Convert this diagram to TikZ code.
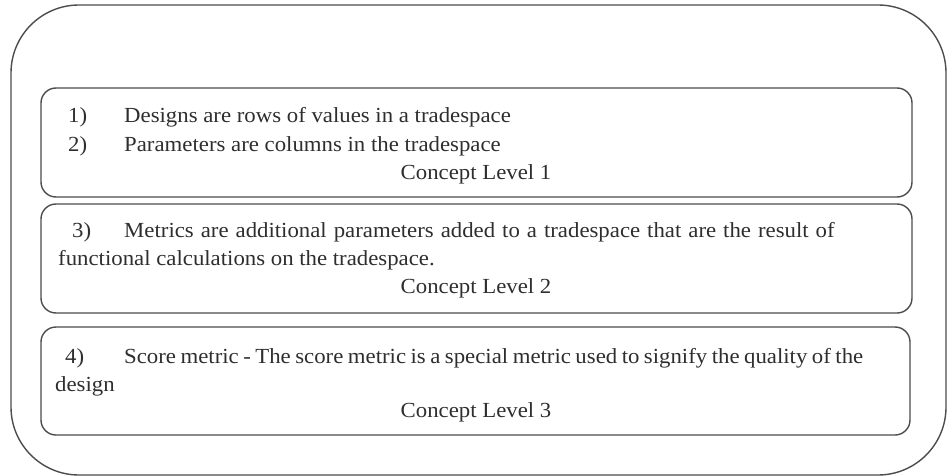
\documentclass[tikz,border=0pt]{standalone}
\usepackage{fontspec}
\setmainfont[FakeStretch=1.06]{Liberation Serif}
\begin{document}
\begin{tikzpicture}[x=1pt,y=-1pt,
  frame/.style={draw=black!70, line width=1.4pt},
  txt/.style={inner sep=0pt, anchor=base west, text=black!82, font=\fontsize{21.5}{25}\selectfont},
  ctxt/.style={inner sep=0pt, anchor=base, text=black!82, font=\fontsize{21.5}{25}\selectfont}]
\useasboundingbox (0,0) rectangle (947,476);
\draw[frame, rounded corners=68pt] (11,5) rectangle (946,475);
\draw[frame, rounded corners=15pt] (41,88) rectangle (912,197);
\draw[frame, rounded corners=15pt] (41,204) rectangle (912,313);
\draw[frame, rounded corners=15pt] (41,327) rectangle (910,435);
% box 1
\node[txt] (n1) at (68,123) {1)};
\node[txt] (t1) at (124,123) {Designs are rows of values in a tradespace};
\node[txt] (n2) at (68,151) {2)};
\node[txt] (t2) at (124,151) {Parameters are columns in the tradespace};
\node[ctxt] (c1) at (476,179) {Concept Level 1};
% box 2
\node[txt] (n3) at (72,237) {3)};
\node[txt] (t3) at (124,237) {\spaceskip=7pt Metrics are additional parameters added to a tradespace that are the result of};
\node[txt] (t3b) at (58,265) {functional calculations on the tradespace.};
\node[ctxt] (c2) at (476,293) {Concept Level 2};
% box 3
\node[txt] (n4) at (65,363) {4)};
\node[txt] (t4) at (124,363) {\spaceskip=4.5pt Score metric - The score metric is a special metric used to signify the quality of the};
\node[txt] (t4b) at (55,391) {design};
\node[ctxt] (c3) at (476,417) {Concept Level 3};
\end{tikzpicture}
\end{document}
